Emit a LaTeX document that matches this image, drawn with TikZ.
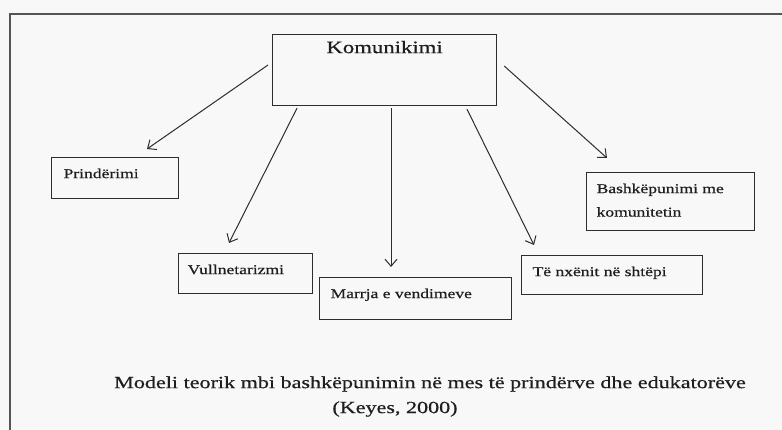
\documentclass[tikz,border=0pt]{standalone}
\usepackage{fontspec}
\setmainfont{Liberation Serif}[FakeStretch=1.3,FakeBold=0.6]
\usetikzlibrary{arrows.meta}
\definecolor{bgc}{RGB}{248,248,248}
\definecolor{ink}{RGB}{45,45,45}
\definecolor{txt}{RGB}{30,30,30}
\definecolor{framec}{RGB}{85,85,85}
% box content: width, height, baseline offset, left pad, text
\newcommand\bxt[5]{\parbox[b][#2pt][t]{#1pt}{\raggedright\leftskip=#4pt\relax\rule{0pt}{#3pt}#5}}
\begin{document}
\begin{tikzpicture}[x=1pt,y=-1pt,
  cbox/.style={draw=ink,line width=1.2pt,inner sep=0pt,anchor=north west,text=txt,font=\fontsize{13.5}{23.5}\selectfont},
  arr/.style={draw=ink,line width=1pt,-{Straight Barb[length=7pt,width=12pt,line width=1pt]}},
  captxt/.style={text=txt,font=\fontsize{17}{20}\selectfont,inner sep=0pt}]
\useasboundingbox (0,0) rectangle (782,430);
\fill[bgc] (0,0) rectangle (782,430);
\draw[framec,line width=2.2pt] (10,430) -- (10,14) -- (782,14);

\node[cbox,font=\fontsize{17.5}{20}\selectfont] (kom) at (272,34) {\parbox[b][71pt][t]{224pt}{\centering\rule{0pt}{18.5pt}Komunikimi}};
\node[cbox] (prind) at (51,157) {\bxt{127}{41}{20.5}{12}{Prindërimi}};
\node[cbox] (vull) at (178,253) {\bxt{134}{40}{20.5}{9}{Vullnetarizmi}};
\node[cbox] (marr) at (319,277) {\bxt{192}{42}{20.5}{11}{Marrja e vendimeve}};
\node[cbox] (tenx) at (521,255) {\bxt{181}{39}{20.5}{11}{Të nxënit në shtëpi}};
\node[cbox] (bash) at (586,172) {\bxt{168}{58}{20.5}{10}{Bashkëpunimi me\\komunitetin}};

\draw[arr] ([shift={(-4,31)}]kom.north west) -- ([shift={(96,-8)}]prind.north west);
\draw[arr] ([shift={(25,2)}]kom.south west) -- ([shift={(51,-10)}]vull.north west);
\draw[arr] ([shift={(119,2)}]kom.south west) -- ([shift={(72,-10)}]marr.north west);
\draw[arr] ([shift={(195,3)}]kom.south west) -- ([shift={(13,-10)}]tenx.north west);
\draw[arr] ([shift={(7,32)}]kom.north east) -- ([shift={(21,-14)}]bash.north west);

\node[captxt] (title) at (430,384) {Modeli teorik mbi bashkëpunimin në mes të prindërve dhe edukatorëve};
\node[captxt] (src) at (395,409) {(Keyes, 2000)};
\end{tikzpicture}
\end{document}
